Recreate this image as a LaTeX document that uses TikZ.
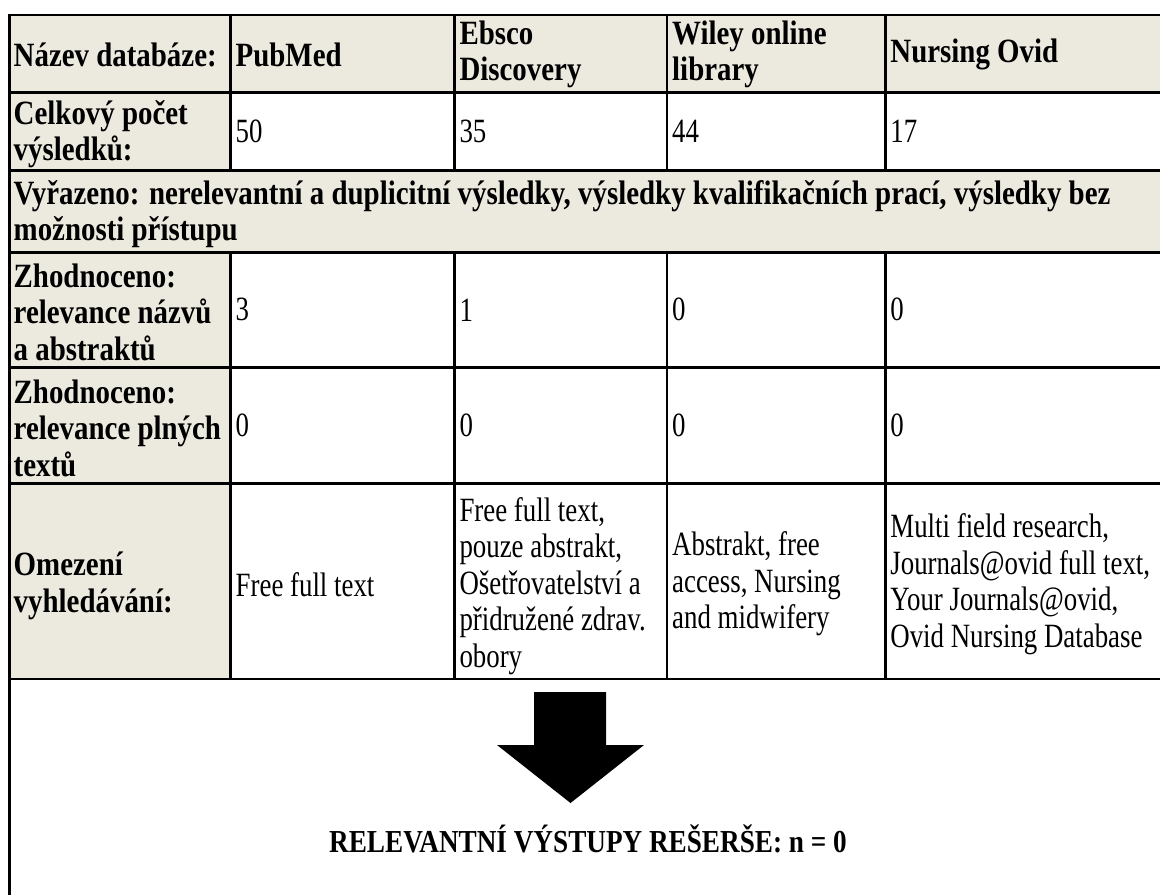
\documentclass[tikz,border=0pt]{standalone}
\usepackage{fontspec}
\setmainfont{Liberation Serif}[UprightFeatures={FakeStretch=0.79},BoldFeatures={FakeStretch=0.85}]
\definecolor{beige}{HTML}{ECE9DF}
\begin{document}
\begin{tikzpicture}[x=1pt,y=-1pt,
  cell/.style={anchor=west, align=left, inner sep=0pt, font=\fontsize{34}{36.5}\selectfont},
  bcell/.style={cell, font=\fontsize{34}{36.5}\selectfont\bfseries},
  grid/.style={line width=2.6pt, black}]
\useasboundingbox (0,0) rectangle (1160,895);
% fills
\fill[beige] (9.2,15) rectangle (1160,92.7);
\fill[beige] (9.2,92.7) rectangle (230.5,679);
\fill[beige] (9.2,170.7) rectangle (1160,252.3);
% horizontal lines
\foreach \yy in {15,92.7,170.7,252.3,367.3,483.3,679}
  \draw[grid] (7.9,\yy) -- (1160,\yy);
% left border
\draw[grid] (9.2,13.7) -- (9.2,895);
% column lines
\foreach \xx in {230.5,454.3,667,885.2}{
  \draw[grid] (\xx,15) -- (\xx,170.7);
  \draw[grid] (\xx,252.3) -- (\xx,679);
}
% row 1
\node[bcell] (h0) at (13.5,54.5) {Název databáze:};
\node[bcell] (h1) at (235.5,54.5) {PubMed};
\node[bcell] (h2) at (459.3,54.5) {Ebsco\\Discovery};
\node[bcell] (h3) at (672,54.5) {Wiley online\\library};
\node[bcell] (h4) at (890.2,54.5) {Nursing Ovid};
% row 2
\node[bcell] (c0) at (13.5,134) {Celkový počet\\výsledků:};
\node[cell] (c1) at (235.5,131.7) {50};
\node[cell] (c2) at (459.3,131.7) {35};
\node[cell] (c3) at (672,131.7) {44};
\node[cell] (c4) at (890.2,131.7) {17};
% row 3
\node[bcell] (v0) at (13.5,214) {Vyřazeno: nerelevantní a duplicitní výsledky, výsledky kvalifikačních prací, výsledky bez\\možnosti přístupu};
% row 4
\node[bcell] (a0) at (13.5,312) {Zhodnoceno:\\relevance názvů\\a abstraktů};
\node[cell] (a1) at (235.5,309.8) {3};
\node[cell] (a2) at (459.3,309.8) {1};
\node[cell] (a3) at (672,309.8) {0};
\node[cell] (a4) at (890.2,309.8) {0};
% row 5
\node[bcell] (p0) at (13.5,428) {Zhodnoceno:\\relevance plných\\textů};
\node[cell] (p1) at (235.5,425.3) {0};
\node[cell] (p2) at (459.3,425.3) {0};
\node[cell] (p3) at (672,425.3) {0};
\node[cell] (p4) at (890.2,425.3) {0};
% row 6
\node[bcell] (o0) at (13.5,586) {Omezení\\vyhledávání:};
\node[cell] (o1) at (235.5,585) {Free full text};
\node[cell] (o2) at (459.3,586) {Free full text,\\pouze abstrakt,\\Ošetřovatelství a\\přidružené zdrav.\\obory};
\node[cell] (o3) at (672,584) {Abstrakt, free\\access, Nursing\\and midwifery};
\node[cell] (o4) at (890.2,584) {Multi field research,\\Journals@ovid full text,\\Your Journals@ovid,\\Ovid Nursing Database};
% block arrow
\fill[black] (534,692) -- (606,692) -- (606,745) -- (644,745) -- (570.5,803) -- (497,745) -- (534,745) -- cycle;
% result
\node[anchor=base, inner sep=0pt, font=\fontsize{32}{36}\selectfont\bfseries] (res) at (588,852) {RELEVANTNÍ VÝSTUPY REŠERŠE: n = 0};
\end{tikzpicture}
\end{document}
